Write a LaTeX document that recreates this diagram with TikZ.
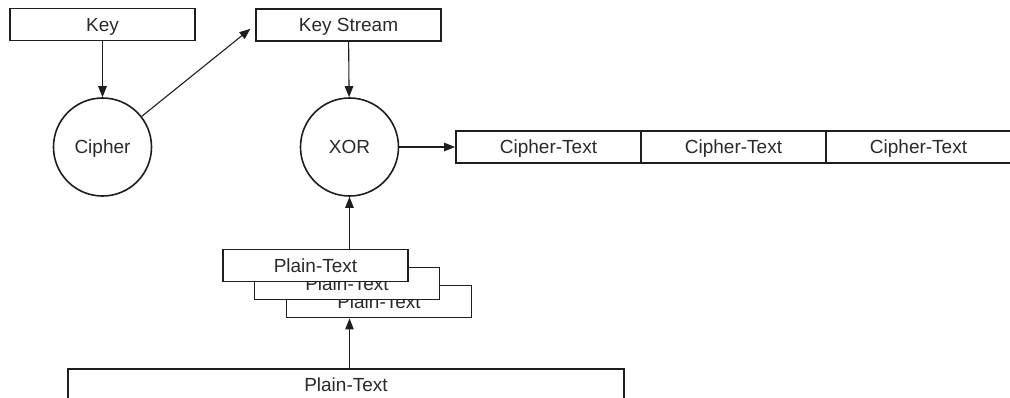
\documentclass[tikz,border=0pt]{standalone}
\usepackage{fontspec}
\setmainfont{Liberation Sans}
\usetikzlibrary{arrows.meta}
\definecolor{ink}{HTML}{1E1E1E}
\definecolor{txt}{HTML}{2A2A2A}
\tikzset{
  box/.style={draw=ink, line width=1.8pt, fill=white, rectangle, inner sep=0pt,
    minimum width=185pt, minimum height=32pt, text=txt,
    text height=13.6pt, text depth=0pt,
    font=\fontsize{19}{22}\selectfont},
  ring/.style={draw=ink, line width=1.6pt, circle, inner sep=0pt, minimum size=98pt,
    text=txt, text height=13.6pt, text depth=0pt, font=\fontsize{19}{22}\selectfont},
  conn/.style={draw=ink, line width=1.1pt, -{Triangle[length=11pt,width=8.5pt]}}
}
\begin{document}
\begin{tikzpicture}[x=1pt,y=-1pt]
\useasboundingbox (0,0) rectangle (1010,397);
\clip (0,0) rectangle (1010,397);
% top boxes
\node[box] (key) at (102.5,24.5) {Key};
\node[box] (ks) at (348.5,25) {Key Stream};
% circles
\node[ring] (cipher) at (102.5,147) {Cipher};
\node[ring] (xor) at (349.5,147) {XOR};
% cipher-text row
\node[box] (ct1) at (548.5,147) {Cipher-Text};
\node[box] (ct2) at (733.5,147) {Cipher-Text};
\node[box] (ct3) at (918.5,147) {Cipher-Text};
% stacked plain-text blocks
\node[box] (p3) at (379,301.5) {Plain-Text};
\node[box] (p2) at (347,283.5) {Plain-Text};
\node[box] (p1) at (315.5,265.5) {Plain-Text};
% bottom plain-text
\node[box, minimum width=556pt] (pt) at (346,385) {Plain-Text};
% connectors
\draw[conn] (key) -- (cipher);
\draw[conn, shorten >=6pt] (cipher.38) -- (ks.west);
\draw[conn] (ks) -- (xor);
\draw[conn] (xor) -- (ct1);
\draw[conn] (p1.north -| xor.south) -- (xor.south);
\draw[conn] (pt.north -| xor.south) -- (p3.south -| xor.south);
\end{tikzpicture}
\end{document}
